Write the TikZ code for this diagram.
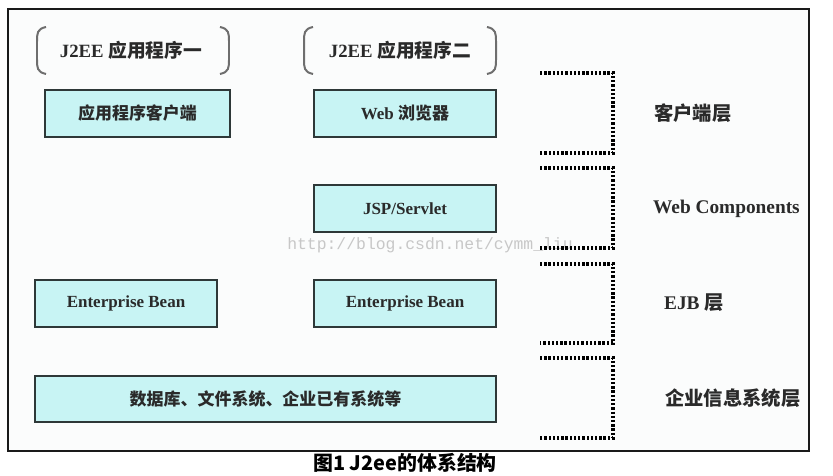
\documentclass[tikz,border=0pt]{standalone}
\usepackage{fontspec}
\setmainfont{Liberation Serif}
\newfontfamily\cjk{Noto Sans CJK SC}
\newfontfamily\wmfont{Liberation Mono}
\usetikzlibrary{positioning}
\definecolor{rim}{HTML}{1A1A1A}
\definecolor{paper}{HTML}{FBFCFC}
\definecolor{cyanfill}{HTML}{C8F4F4}
\definecolor{boxline}{HTML}{2E3838}
\definecolor{ink}{HTML}{2A2A2A}
\definecolor{parengray}{HTML}{6E6E6E}
\tikzset{layer/.style={draw=boxline,fill=cyanfill,line width=1.5pt,minimum width=54.6mm,minimum height=14.1mm,inner sep=0pt,font=\fontsize{14.5}{16}\selectfont\bfseries,text=ink},appname/.style={font=\fontsize{16}{18}\selectfont\bfseries,text=ink},tier/.style={anchor=west,font=\fontsize{16.5}{18}\selectfont\bfseries,text=ink},tierline/.style={line width=2.8pt,dash pattern=on 2pt off 1.6pt,draw=black},parenline/.style={draw=parengray,line width=1.7pt}}
\begin{document}
\begin{tikzpicture}[x=0.3mm,y=-0.3mm]
\useasboundingbox[fill=white] (0,0) rectangle (833,476);
\draw[draw=rim,line width=1.1pt,fill=paper] (8,9) rectangle (809,451);
\foreach \l/\r in {37/229,304/496}{
\draw[parenline] (\l+9,27) .. controls (\l,29) and (\l,33) .. (\l,42) -- (\l,59) .. controls (\l,68) and (\l,72) .. (\l+9,74);
\draw[parenline] (\r-9,27) .. controls (\r,29) and (\r,33) .. (\r,42) -- (\r,59) .. controls (\r,68) and (\r,72) .. (\r-9,74);
}
\node[appname] (app1) at (131,50) {J2EE {\cjk 应用程序一}};
\node[appname] (app2) at (400,50) {J2EE {\cjk 应用程序二}};
\node[layer,minimum width=55.5mm] (client) at (137.5,113.5) {\cjk 应用程序客户端};
\node[layer] (browser) at (405,113.5) {Web {\cjk 浏览器}};
\node[layer] (jsp) at (405,208.5) {JSP/Servlet};
\node[layer] (bean1) at (126,303.5) {Enterprise Bean};
\node[layer] (bean2) at (405,303.5) {Enterprise Bean};
\node[layer,minimum width=138.3mm,minimum height=13.8mm] (eis) at (265.5,399) {\cjk 数据库、文件系统、企业已有系统等};
\node[font=\wmfont\fontsize{14}{16}\selectfont,text=black!22] (mark) at (430,245) {http://blog.csdn.net/cymm\_liu};
\foreach \t/\b in {73/153,168/248,264/343,358/438}
\draw[tierline] (540,\t) -- (613,\t) -- (613,\b) -- (540,\b);
\node[tier] (clienttier) at (650,113) {\cjk 客户端层};
\node[tier] (webtier) at (649,209) {Web Components};
\node[tier] (ejbtier) at (660,303) {EJB {\cjk 层}};
\node[tier] (eistier) at (661,398) {\cjk 企业信息系统层};
\node[font=\cjk\fontsize{17}{19}\selectfont\bfseries,text=black] (caption) at (405,463) {图1 J2ee的体系结构};
\end{tikzpicture}
\end{document}
